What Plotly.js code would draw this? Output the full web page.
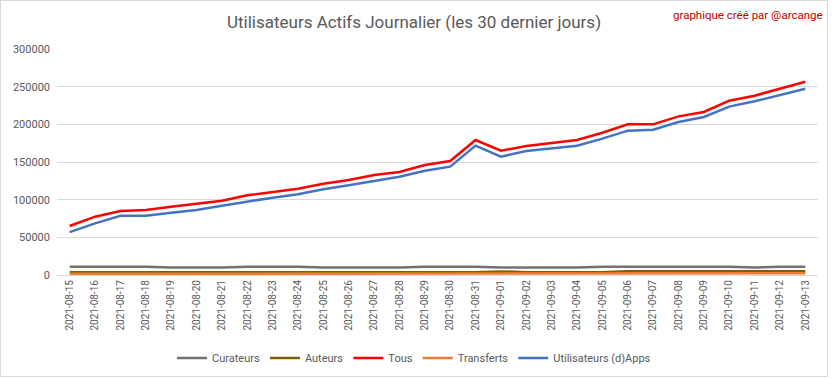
<!DOCTYPE html>
<html>
<head>
<meta charset="utf-8">
<script src="https://cdn.plot.ly/plotly-3.0.1.min.js"></script>
<style>
html,body{margin:0;padding:0;background:#fff;}
#wrap{position:absolute;left:0;top:0;width:826px;height:375px;border:1px solid #d9d9d9;}
#chart{width:826px;height:375px;}
</style>
</head>
<body>
<div id="wrap"><div id="chart"></div></div>
<script>
const dates = ["2021-08-15","2021-08-16","2021-08-17","2021-08-18","2021-08-19","2021-08-20","2021-08-21","2021-08-22","2021-08-23","2021-08-24","2021-08-25","2021-08-26","2021-08-27","2021-08-28","2021-08-29","2021-08-30","2021-08-31","2021-09-01","2021-09-02","2021-09-03","2021-09-04","2021-09-05","2021-09-06","2021-09-07","2021-09-08","2021-09-09","2021-09-10","2021-09-11","2021-09-12","2021-09-13"];
const curateurs = [11000,11000,11000,11000,10000,10000,10000,11000,11000,11000,10000,10000,10000,10000,11000,11000,11000,10000,10000,10000,10000,11000,11000,11000,11000,11000,11000,10000,11000,11000];
const auteurs = [3500,3500,3500,3500,3500,3500,3500,3500,3500,3500,3500,3500,3500,3500,3500,3500,3500,4800,3800,3800,3800,3800,5000,5000,5000,5000,5000,4200,4200,5000];
const tous = [65000,77400,85000,86300,90700,95100,98600,105800,110600,114600,121200,126100,132700,136700,146000,151300,179200,165000,171200,175000,179200,188900,200000,200000,210600,216400,231400,238000,246900,256600];
const transferts = [1600,1600,1600,1600,1600,2400,2400,2400,2400,1600,1600,1600,1600,1600,1600,1600,1600,1600,1600,1600,2400,2400,2400,2400,2400,2400,2400,2400,2400,2400];
const utilisateurs = [57000,68600,78700,78700,82700,86300,92000,97800,102600,107100,113700,119000,125200,130500,138500,143800,171700,157100,164600,168400,171700,181000,191600,192900,203100,209700,223500,230600,238900,247300];

const names = ["Curateurs","Auteurs","Tous","Transferts","Utilisateurs (d)Apps"];
const series = [curateurs, auteurs, tous, transferts, utilisateurs];
const colors = ["#767171","#7F6000","#FF0000","#ED7D31","#4472C4"];

const traces = series.map((s, i) => ({
  x: dates, y: s, name: names[i], type: "scatter", mode: "lines",
  line: {color: colors[i], width: 2.5},
  hoverinfo: "skip"
}));

const font = "Roboto, 'Liberation Sans', sans-serif";
const layout = {
  width: 826, height: 375,
  margin: {l: 56, r: 9, t: 48, b: 101},
  paper_bgcolor: "#ffffff", plot_bgcolor: "#ffffff",
  showlegend: true,
  title: {text: "Utilisateurs Actifs Journalier (les 30 dernier jours)", font: {family: font, size: 17, color: "#595959"}, x: 0.5, xref: "container", xanchor: "center", y: 1 - 21/375, yref: "container", yanchor: "middle"},
  font: {family: font, size: 11, color: "#595959"},
  xaxis: {type: "category", range: [-0.5, 29.5], tickangle: -90, tickfont: {size: 10, color: "#595959"}, showgrid: false, showline: true, linecolor: "#d9d9d9", linewidth: 1, ticks: "", zeroline: false, fixedrange: true, automargin: false},
  yaxis: {range: [0, 300000], dtick: 50000, tickformat: "d", showgrid: true, gridcolor: "#d9d9d9", gridwidth: 1, zeroline: false, showline: false, ticks: "", ticklabelstandoff: 6, tickfont: {size: 11, color: "#595959"}, fixedrange: true, automargin: false},
  legend: {orientation: "h", x: 0.5, xref: "container", xanchor: "center", y: (375 - 357) / 375, yref: "container", yanchor: "middle", font: {size: 11, color: "#595959"}, itemwidth: 30, tracegroupgap: 0},
  annotations: [{text: "graphique créé par @arcange", xref: "paper", yref: "paper", x: 1 + 7 / 761, y: 1 + (48 - 14) / 226, xanchor: "right", yanchor: "middle", showarrow: false, font: {family: font, size: 11.5, color: "#C00000"}}]
};
Plotly.newPlot("chart", traces, layout, {displayModeBar: false, staticPlot: true});
</script>
</body>
</html>
